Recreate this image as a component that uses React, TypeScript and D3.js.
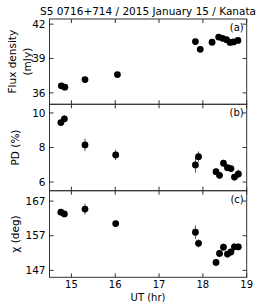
import React from "react";
import * as d3 from "d3";

const timesFlux = [14.77, 14.85, 15.31, 16.05, 17.83, 17.94, 18.21, 18.36, 18.45, 18.54, 18.62, 18.7, 18.8];
const flux = [36.61, 36.5, 37.16, 37.6, 40.48, 39.8, 40.42, 40.87, 40.76, 40.64, 40.4, 40.45, 40.58];
const fluxErr = [0.1, 0.1, 0.15, 0.12, 0.2, 0.12, 0.1, 0.1, 0.1, 0.1, 0.1, 0.1, 0.1];

const timesPol = [14.76, 14.84, 15.31, 16.01, 17.83, 17.9, 18.3, 18.38, 18.47, 18.56, 18.64, 18.72, 18.81];
const pd = [9.44, 9.66, 8.15, 7.57, 6.99, 7.47, 6.6, 6.39, 7.09, 6.83, 6.78, 6.29, 6.47];
const pdErr = [0.2, 0.2, 0.36, 0.3, 0.45, 0.3, 0.2, 0.2, 0.2, 0.2, 0.2, 0.2, 0.25];
const chi = [163.8, 163.3, 164.7, 160.5, 158.0, 154.8, 149.3, 151.9, 153.7, 151.7, 152.3, 153.8, 153.8];
const chiErr = [0.7, 0.7, 1.6, 1.0, 2.0, 1.2, 1.0, 1.0, 1.0, 1.0, 1.0, 1.0, 1.0];

const xTicks = [15, 16, 17, 18, 19];
const fluxTicks = [36, 39, 42];
const pdTicks = [6, 8, 10];
const chiTicks = [147, 157, 167];

const L = 49.5, R = 246.7;
const x = d3.scaleLinear().domain([14.5, 19]).range([L, R]);

const panels = [
  { t: timesFlux, v: flux, e: fluxErr, ticks: fluxTicks, dom: [35, 42.45], top: 19, bot: 104.3, label: "(a)", ylab: ["Flux density", "(mJy)"] },
  { t: timesPol, v: pd, e: pdErr, ticks: pdTicks, dom: [5.5, 10.5], top: 104.3, bot: 190.7, label: "(b)", ylab: ["PD (%)"] },
  { t: timesPol, v: chi, e: chiErr, ticks: chiTicks, dom: [145, 170], top: 190.7, bot: 277.3, label: "(c)", ylab: ["χ (deg)"] },
];

const font = "DejaVu Sans, sans-serif";
const fs = 10.5;
const tfs = 10;

export default function App() {
  return (
    <svg width={274} height={302} style={{ position: "absolute", left: 0, top: 0 }} fontFamily={font}>
      <rect width={274} height={302} fill="white" />
      <text x={148} y={15} fontSize={fs} textAnchor="middle">S5 0716+714 / 2015 January 15 / Kanata</text>
      {panels.map((p, i) => {
        const y = d3.scaleLinear().domain(p.dom).range([p.bot, p.top]);
        const cy = (p.top + p.bot) / 2;
        return (
          <g key={i}>
            {p.t.map((t, j) => (
              <line key={"e" + j} x1={x(t)} x2={x(t)} y1={y(p.v[j] - p.e[j])} y2={y(p.v[j] + p.e[j])} stroke="#555" strokeWidth={1} />
            ))}
            {p.t.map((t, j) => (
              <circle key={"c" + j} cx={x(t)} cy={y(p.v[j])} r={3.4} fill="black" />
            ))}
            <rect x={L} y={p.top} width={R - L} height={p.bot - p.top} fill="none" stroke="#333" strokeWidth={1} />
            {xTicks.map((t) => (
              <g key={"x" + t}>
                <line x1={x(t)} x2={x(t)} y1={p.bot} y2={p.bot - 4} stroke="#333" />
                <line x1={x(t)} x2={x(t)} y1={p.top} y2={p.top + 4} stroke="#333" />
              </g>
            ))}
            {p.ticks.map((v) => (
              <g key={"y" + v}>
                <line x1={L} x2={L + 4} y1={y(v)} y2={y(v)} stroke="#333" />
                <line x1={R} x2={R - 4} y1={y(v)} y2={y(v)} stroke="#333" />
                <text x={L - 4} y={y(v)} dy="0.35em" fontSize={fs} textAnchor="end">{v}</text>
              </g>
            ))}
            <text x={R - 3} y={p.top + 12} fontSize={fs - 0.5} textAnchor="end">{p.label}</text>
            {p.ylab.length === 2 ? (
              <g>
                <text transform={`translate(16,${cy}) rotate(-90)`} fontSize={fs} textAnchor="middle">{p.ylab[0]}</text>
                <text transform={`translate(31,${cy}) rotate(-90)`} fontSize={fs} textAnchor="middle">{p.ylab[1]}</text>
              </g>
            ) : (
              <text transform={`translate(19,${cy}) rotate(-90)`} fontSize={fs} textAnchor="middle">{p.ylab[0]}</text>
            )}
          </g>
        );
      })}
      {xTicks.map((t) => (
        <text key={"xl" + t} x={x(t)} y={287.5} fontSize={tfs} textAnchor="middle">{t}</text>
      ))}
      <text x={148} y={300.5} fontSize={tfs} textAnchor="middle">UT (hr)</text>
    </svg>
  );
}
